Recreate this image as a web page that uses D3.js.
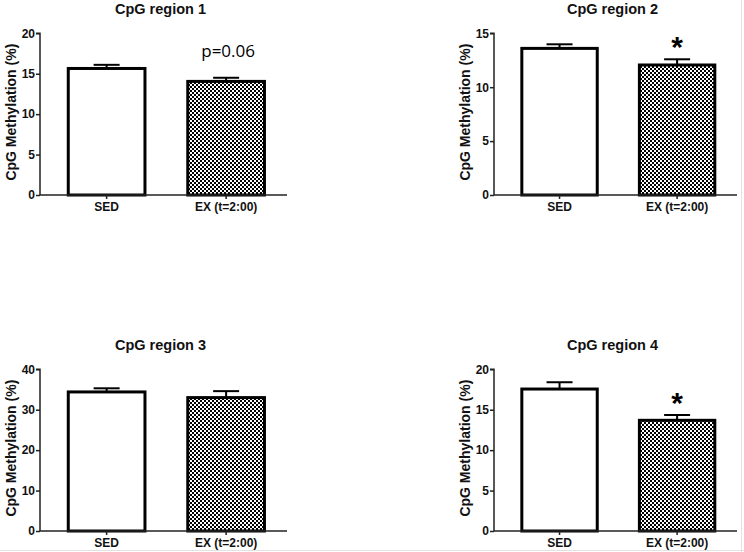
<!DOCTYPE html>
<html><head><meta charset="utf-8">
<script src="https://cdn.jsdelivr.net/npm/d3@7/dist/d3.min.js"></script>
<style>body{margin:0;background:#fff}svg{display:block}</style>
</head><body>
<script>
const categories = ["SED", "EX (t=2:00)"];
const titles = ["CpG region 1", "CpG region 2", "CpG region 3", "CpG region 4"];
const means = [[15.65, 14.05], [13.6, 12.06], [34.4, 33.0], [17.56, 13.69]];
const sems = [[0.45, 0.45], [0.38, 0.53], [0.9, 1.6], [0.84, 0.66]];
const yMax = [20, 15, 40, 20];
const yTickStep = [5, 5, 10, 5];
const annotations = ["p=0.06", "*", "", "*"];
const yLabel = "CpG Methylation (%)";

const W = 744, H = 552;
const svg = d3.select("body").append("svg").attr("width", W).attr("height", H);
const defs = svg.append("defs");
const pat = defs.append("pattern").attr("id", "checker").attr("patternUnits", "userSpaceOnUse")
  .attr("width", 4).attr("height", 4);
pat.append("rect").attr("width", 4).attr("height", 4).attr("fill", "#fff");
pat.append("rect").attr("x", 0).attr("y", 0).attr("width", 2).attr("height", 2).attr("fill", "#000").attr("shape-rendering", "crispEdges");
pat.append("rect").attr("x", 2).attr("y", 2).attr("width", 2).attr("height", 2).attr("fill", "#000").attr("shape-rendering", "crispEdges");

svg.append("line").attr("x1", 741.5).attr("x2", 741.5).attr("y1", 0).attr("y2", H).attr("stroke", "#e2e2e2");
svg.append("line").attr("x1", 0).attr("x2", W).attr("y1", 550.5).attr("y2", 550.5).attr("stroke", "#e2e2e2");

const layout = [
  {x: 40, w: 247, top: 33.3, bot: 195},
  {x: 494, w: 243, top: 33.3, bot: 195},
  {x: 40, w: 247, top: 369.3, bot: 531},
  {x: 494, w: 243, top: 369.3, bot: 531}
];
const font = "Liberation Sans, Arial, sans-serif";

titles.forEach((t, i) => {
  const L = layout[i];
  const g = svg.append("g").attr("transform", `translate(${L.x},0)`);
  const x = d3.scaleBand().domain(categories).range([0, L.w])
    .paddingInner(0.333).paddingOuter(0.2).align(0.56);
  const y = d3.scaleLinear().domain([0, yMax[i]]).range([L.bot, L.top]);

  const data = categories.map((c, k) => ({c, m: means[i][k], s: sems[i][k], k}));
  const eg = g.append("g");
  data.forEach(d => {
    const cx = x(d.c) + x.bandwidth() / 2;
    eg.append("line").attr("x1", cx).attr("x2", cx).attr("y1", y(d.m)).attr("y2", y(d.m + d.s))
      .attr("stroke", "#000").attr("stroke-width", 2);
    eg.append("line").attr("x1", cx - 13).attr("x2", cx + 13).attr("y1", y(d.m + d.s)).attr("y2", y(d.m + d.s))
      .attr("stroke", "#000").attr("stroke-width", 2);
  });
  g.selectAll("rect.bar").data(data).join("rect").attr("class", "bar")
    .attr("x", d => x(d.c) + 1.5).attr("width", x.bandwidth() - 3)
    .attr("y", d => y(d.m)).attr("height", d => y(0) - y(d.m))
    .attr("fill", d => d.k === 0 ? "#fff" : "url(#checker)")
    .attr("stroke", "#000").attr("stroke-width", 3);

  const ticks = d3.range(0, yMax[i] + 0.001, yTickStep[i]);
  const ya = g.append("g").call(d3.axisLeft(y).tickValues(ticks).tickSize(4).tickPadding(1).tickFormat(d3.format("d")));
  const xa = g.append("g").attr("transform", `translate(0,${L.bot})`)
    .call(d3.axisBottom(x).tickSize(4).tickPadding(3));
  [ya, xa].forEach(a => {
    a.select(".domain").attr("stroke", "#222").attr("stroke-width", 1.5);
    a.selectAll(".tick line").attr("stroke", "#222").attr("stroke-width", 1.5);
    a.selectAll("text").attr("font-family", font).attr("font-weight", "bold").attr("font-size", 12).attr("fill", "#111");
  });
  ya.select(".domain").attr("d", `M-4,${L.top}H0V${L.bot}`);
  xa.select(".domain").attr("d", `M0,0H${L.w}`);

  g.append("text").attr("transform", `translate(-24,${(L.top + L.bot) / 2 - 2}) rotate(-90)`)
    .attr("text-anchor", "middle").attr("font-family", font).attr("font-weight", "bold")
    .attr("font-size", 14).attr("fill", "#111").text(yLabel);

  g.append("text").attr("x", L.w / 2 - 3).attr("y", L.top - 19.5).attr("text-anchor", "middle")
    .attr("font-family", font).attr("font-weight", "bold").attr("font-size", 14.5).attr("fill", "#111").text(t);

  const a = annotations[i];
  if (a) {
    const d = data[1];
    const cx = x(d.c) + x.bandwidth() / 2;
    const topY = y(d.m + d.s);
    if (a === "*") {
      g.append("text").attr("x", cx).attr("y", topY - 20 + 18).attr("text-anchor", "middle")
        .attr("font-family", font).attr("font-weight", "bold").attr("font-size", 30).attr("fill", "#000").text(a);
    } else {
      g.append("text").attr("x", cx + 2).attr("y", topY - 20.5).attr("text-anchor", "middle")
        .attr("font-family", "Open Sans, Liberation Sans, sans-serif").attr("font-size", 17).attr("fill", "#000").text(a);
    }
  }
});
</script>
</body></html>
